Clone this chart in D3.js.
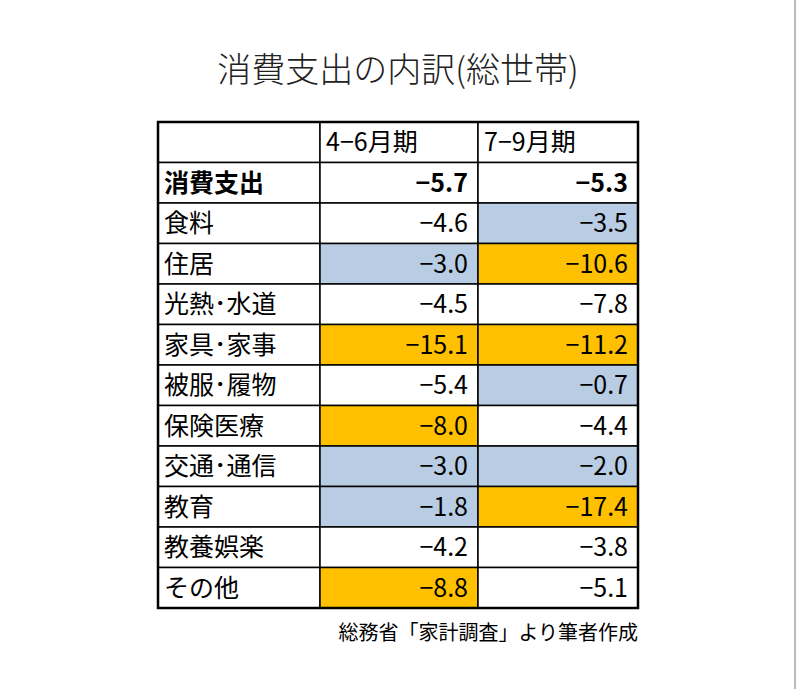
<!DOCTYPE html><html><head><meta charset="utf-8">
<script src="https://cdn.jsdelivr.net/npm/d3@7"></script>
<style>body{margin:0;background:#fff}</style></head><body>
<svg id="c" width="800" height="689"></svg>
<script>
const title = "消費支出の内訳(総世帯)";
const headers = ["", "4−6月期", "7−9月期"];
const categories = ["消費支出","食料","住居","光熱･水道","家具･家事","被服･履物","保険医療","交通･通信","教育","教養娯楽","その他"];
const q2 = [-5.7,-4.6,-3.0,-4.5,-15.1,-5.4,-8.0,-3.0,-1.8,-4.2,-8.8];
const q3 = [-5.3,-3.5,-10.6,-7.8,-11.2,-0.7,-4.4,-2.0,-17.4,-3.8,-5.1];
const hl2 = ["","","b","","o","","o","b","b","","o"];
const hl3 = ["","b","o","","o","b","","b","o","",""];
const source = "総務省「家計調査」より筆者作成";

const svg = d3.select("#c");
const font = "'Noto Sans CJK JP', sans-serif";
const fill = {b:"#b8cce4", o:"#ffc000", "":"#fff"};
svg.append("rect").attr("x",794).attr("y",0).attr("width",2).attr("height",689).attr("fill","#bbb");
svg.append("text").attr("x",398).attr("y",82).attr("text-anchor","middle")
  .attr("font-family",font).attr("font-size",34).attr("font-weight",300).attr("fill","#222").text(title);

const colX = [158,320,478,638];
const y = d3.scaleBand().domain(d3.range(categories.length+1)).range([122,608]);
const fmt = v => (v<0?"−":"")+Math.abs(v).toFixed(1);
const rows = [{c:headers[0],a:headers[1],b:headers[2],h2:"",h3:"",hdr:true}]
  .concat(categories.map((c,i)=>({c,a:fmt(q2[i]),b:fmt(q3[i]),h2:hl2[i],h3:hl3[i],bold:i===0})));
rows.forEach((r,i)=>{
  const y0=y(i), h=y.bandwidth();
  [["",0],[r.h2,1],[r.h3,2]].forEach(([k,j])=>{
    svg.append("rect").attr("x",colX[j]).attr("y",y0).attr("width",colX[j+1]-colX[j]).attr("height",h)
      .attr("fill",fill[k]).attr("stroke","#000").attr("stroke-width",1.5);
  });
  const fs=25, ty=y0+h/2+9;
  svg.append("text").attr("x",colX[0]+6).attr("y",ty).attr("font-family",font).attr("font-size",fs)
    .attr("font-weight",r.bold?700:400).text(r.c);
  if(r.hdr){
    svg.append("text").attr("x",colX[1]+6).attr("y",ty).attr("font-family",font).attr("font-size",fs).text(r.a);
    svg.append("text").attr("x",colX[2]+6).attr("y",ty).attr("font-family",font).attr("font-size",fs).text(r.b);
  } else {
    svg.append("text").attr("x",colX[2]-10).attr("y",ty).attr("text-anchor","end").attr("font-family",font).attr("font-size",fs).attr("font-weight",r.bold?700:400).text(r.a);
    svg.append("text").attr("x",colX[3]-10).attr("y",ty).attr("text-anchor","end").attr("font-family",font).attr("font-size",fs).attr("font-weight",r.bold?700:400).text(r.b);
  }
});
svg.append("rect").attr("x",colX[0]).attr("y",122).attr("width",colX[3]-colX[0]).attr("height",486)
  .attr("fill","none").attr("stroke","#000").attr("stroke-width",2.5);
svg.append("text").attr("x",638).attr("y",640).attr("text-anchor","end").attr("font-family",font)
  .attr("font-size",20).text(source);
</script></body></html>
